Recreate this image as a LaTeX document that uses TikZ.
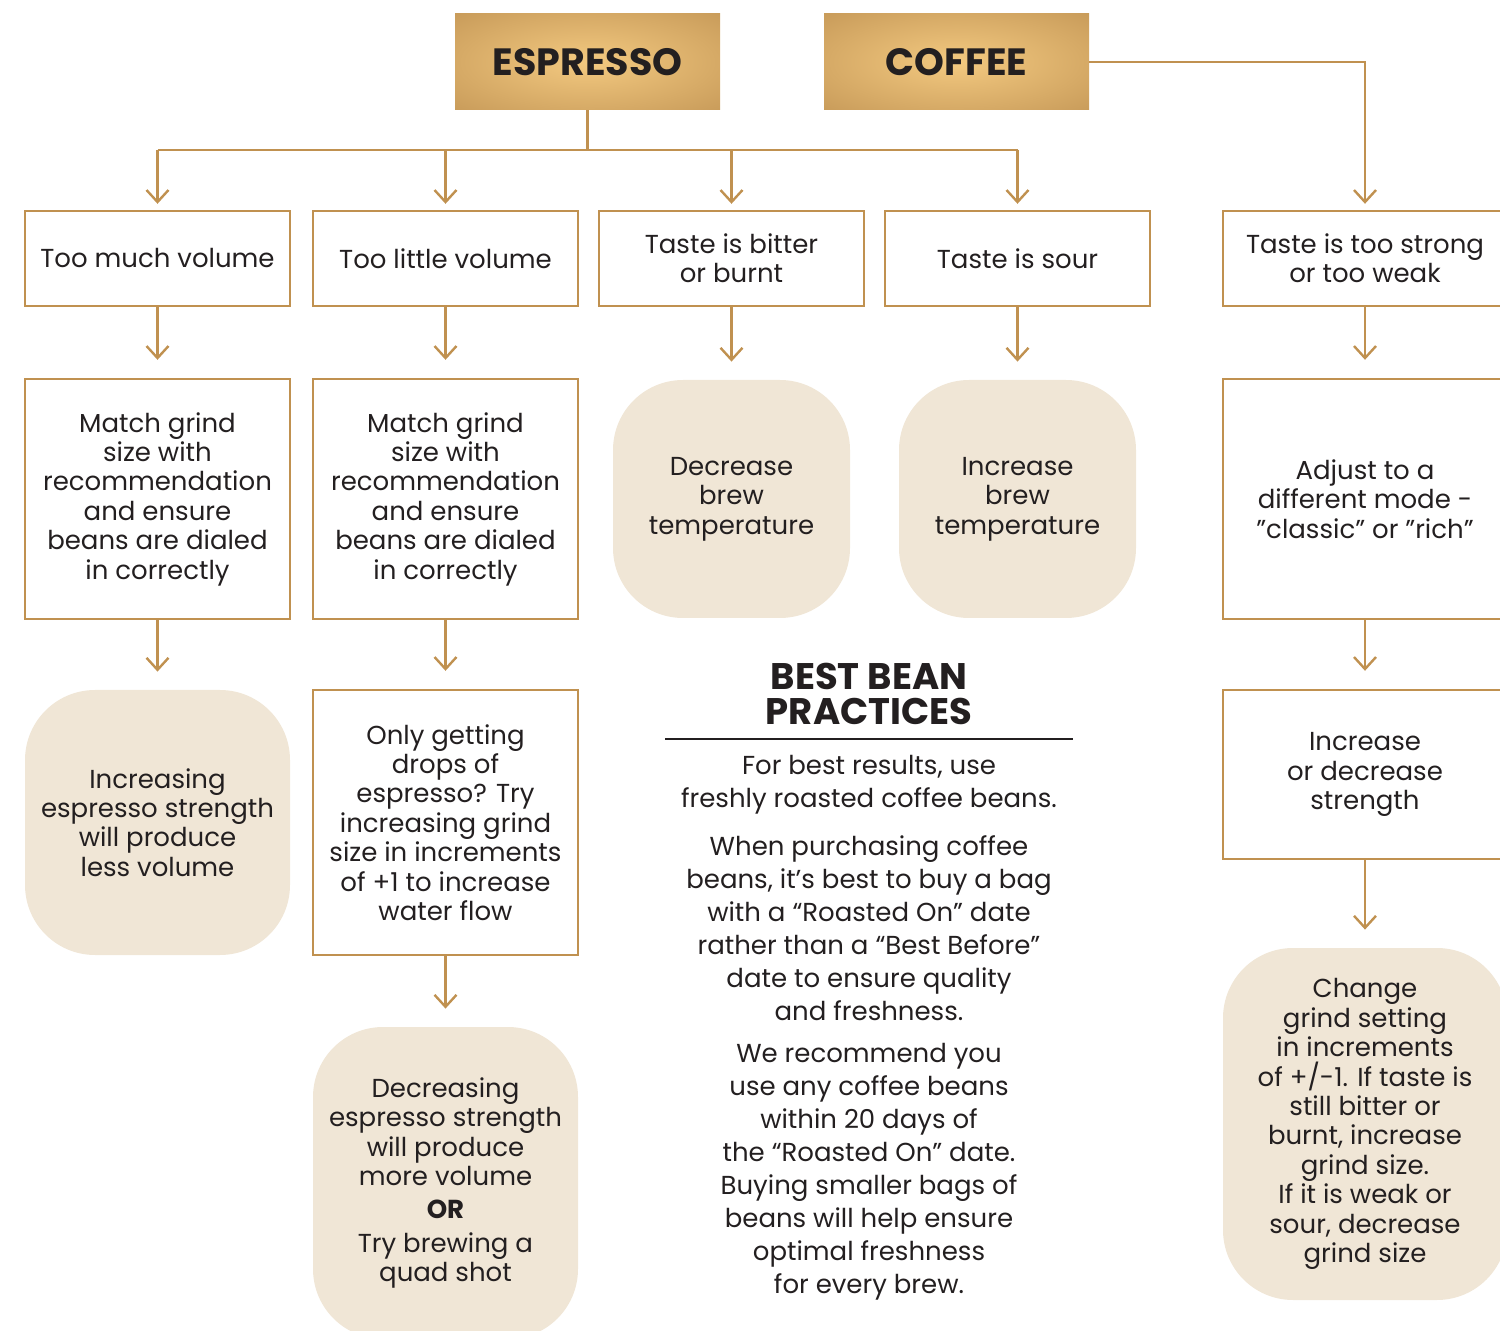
\documentclass[tikz,border=0pt]{standalone}
\usepackage{fontspec}
\setmainfont{Poppins}
\definecolor{BeanGold}{RGB}{192,145,80}
\definecolor{BeanCream}{RGB}{240,230,214}
\definecolor{BeanInk}{RGB}{35,31,32}
\definecolor{GoldLight}{RGB}{243,201,128}
\definecolor{GoldDark}{RGB}{186,140,77}
\usetikzlibrary{
    arrows.meta,
    positioning,
    calc,
}
\pgfdeclareradialshading{goldglow}{\pgfpoint{0bp}{0bp}}{color(0bp)=(GoldLight); color(48bp)=(GoldDark); color(75bp)=(GoldDark)}

\begin{document}
\begin{tikzpicture}[x=0.5pt, y=-0.5pt,
        header/.style={shading=goldglow, minimum width=132.5pt, minimum height=48pt, inner sep=0pt, text=BeanInk, font=\fontsize{19}{20}\selectfont\bfseries},
        issue/.style={draw=BeanGold, line width=1.2pt, minimum width=132.5pt, minimum height=47.5pt, inner sep=0pt, align=center, text=BeanInk, font=\fontsize{13}{14.7}\selectfont},
        fixbox/.style={issue, minimum height=120pt},
        tipbox/.style={fill=BeanCream, rounded corners=35pt, minimum width=132.5pt, inner sep=0pt, align=center, text=BeanInk, font=\fontsize{13}{14.7}\selectfont},
        bodytext/.style={align=center, text=BeanInk, inner sep=0pt, font=\fontsize{13}{16.5}\selectfont},
        link/.style={draw=BeanGold, line width=1.2pt},
        flow/.style={link, -{Straight Barb[length=6pt, width=11pt, line width=1.2pt]}, shorten >=3pt},
        next/.style={shorten >=9pt},
    ]
    \useasboundingbox (0,0) rectangle (1500,1331);
    \clip (0,0) rectangle (1500,1331);

    % headers
    \node[header] (esp) at (587.5,62) {ESPRESSO};
    \node[header] (coffee) at (956.5,62) {COFFEE};
    \coordinate (bus) at (0,150);

    % first row
    \node[issue] (much) at (157.5,258.5) {Too much volume};
    \node[issue] (little) at (445.5,258.5) {Too little volume};
    \node[issue] (bitter) at (731.5,258.5) {Taste is bitter\\or burnt};
    \node[issue] (sour) at (1017.5,258.5) {Taste is sour};
    \node[issue, minimum width=142pt] (strong) at (1365,258.5) {Taste is too strong\\or too weak};

    % second row
    \node[fixbox] (matchA) at (157.5,499) {Match grind\\size with\\recommendation\\and ensure\\beans are dialed\\in correctly};
    \node[fixbox] (matchB) at (445.5,499) {Match grind\\size with\\recommendation\\and ensure\\beans are dialed\\in correctly};
    \node[tipbox, minimum width=118.5pt, minimum height=119pt] (cooler) at (731.5,499) {Decrease\\brew\\temperature};
    \node[tipbox, minimum width=118.5pt, minimum height=119pt] (hotter) at (1017.5,499) {Increase\\brew\\temperature};
    \node[fixbox, minimum width=142pt] (mode) at (1365,499) {Adjust to a\\different mode -\\\symbol{34}classic\symbol{34} or \symbol{34}rich\symbol{34}};

    % third row
    \node[tipbox, minimum height=132.5pt] (lessvol) at (157.5,822.5) {Increasing\\espresso strength\\will produce\\less volume};
    \node[fixbox, minimum height=132.5pt] (drops) at (445.5,822.5) {Only getting\\drops of\\espresso? Try\\increasing grind\\size in increments\\of +1 to increase\\water flow};
    \node[issue, minimum width=142pt, minimum height=84.5pt] (level) at (1365,774.5) {Increase\\or decrease\\strength};

    % fourth row
    \node[tipbox, minimum height=156pt] (morevol) at (445.5,1183) {Decreasing\\espresso strength\\will produce\\more volume\\[2pt]{\bfseries OR}\\[2pt]Try brewing a\\quad shot};
    \node[tipbox, minimum width=142pt, minimum height=176pt] (grind) at (1365,1124) {Change\\grind setting\\in increments\\of +/-1. If taste is\\still bitter or\\burnt, increase\\grind size.\\If it is weak or\\sour, decrease\\grind size};

    % best bean practices
    \node[bodytext, font=\fontsize{18.5}{17.5}\selectfont\bfseries] (bbp) at (869,694) {BEST BEAN\\PRACTICES};
    \coordinate (ruleL) at (665,739);
    \coordinate (ruleR) at (1073,739);
    \draw[BeanInk, line width=1pt] (ruleL) -- (ruleR);
    \node[bodytext] (fresh) at (869,784.5) {For best results, use\\freshly roasted coffee beans.};
    \node[bodytext] (roasted) at (869,928) {When purchasing coffee\\beans, it’s best to buy a bag\\with a “Roasted On” date\\rather than a “Best Before”\\date to ensure quality\\and freshness.};
    \node[bodytext] (within) at (869,1171.5) {We recommend you\\use any coffee beans\\within 20 days of\\the “Roasted On” date.\\Buying smaller bags of\\beans will help ensure\\optimal freshness\\for every brew.};

    % connectors
    \draw[link] (esp.south) -- (esp.south |- bus);
    \draw[link] (much.north |- bus) -- (sour.north |- bus);
    \foreach \n in {much,little,bitter,sour}
        \draw[flow] (\n.north |- bus) -- (\n.north);
    \draw[flow] (coffee.east) -| (strong.north);
    \draw[flow, next] (much) -- (matchA);
    \draw[flow, next] (little) -- (matchB);
    \draw[flow, next] (bitter) -- (cooler);
    \draw[flow, next] (sour) -- (hotter);
    \draw[flow, next] (strong) -- (mode);
    \draw[flow, next] (matchA) -- (lessvol);
    \draw[flow, next] (matchB) -- (drops);
    \draw[flow, next] (mode) -- (level);
    \draw[flow, next] (drops) -- (morevol);
    \draw[flow, next] (level) -- (grind);
\end{tikzpicture}
\end{document}
